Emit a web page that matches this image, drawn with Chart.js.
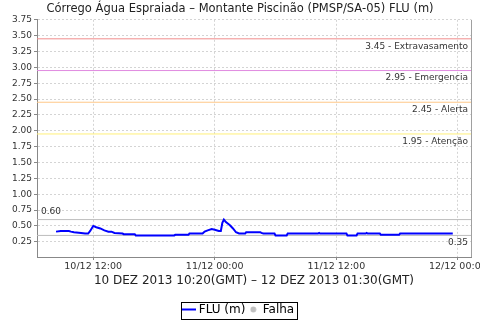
<!DOCTYPE html>
<html>
<head>
<meta charset="utf-8">
<script src="https://cdn.jsdelivr.net/npm/chart.js@4/dist/chart.umd.min.js"></script>
<style>
html,body{margin:0;padding:0;background:#fff;overflow:hidden}
#wrap{position:relative;width:480px;height:320px;overflow:hidden}
#c{position:absolute;left:0;top:0}
</style>
</head>
<body>
<div id="wrap"><canvas id="c" width="500" height="330"></canvas></div>
<script>
const chartTitle = 'Córrego Água Espraiada – Montante Piscinão (PMSP/SA-05) FLU (m)';
const periodLabel = '10 DEZ 2013 10:20(GMT) – 12 DEZ 2013 01:30(GMT)';

// hours counted from 10/12 00:00 (local time shown on the axis)
const hours = [8.33, 8.8, 9.6, 9.8, 10.1, 10.8, 11.2, 11.5, 11.7, 12.0, 12.3, 12.7, 13.1, 13.5, 13.8, 14.1,
  14.9, 15.0, 16.1, 16.2, 20.0, 20.1, 21.4, 21.5, 22.8, 23.0, 23.3, 23.7, 24.0, 24.4, 24.6, 24.75, 24.9,
  25.1, 25.5, 25.8, 26.1, 26.4, 27.0, 27.1, 28.5, 28.6, 28.8, 29.9, 30.0, 31.1, 31.2, 34.2, 34.3, 34.4,
  37.0, 37.1, 38.0, 38.1, 38.9, 39.0, 39.1, 40.3, 40.4, 42.2, 42.3, 47.5];
const flu = [0.41, 0.42, 0.42, 0.41, 0.40, 0.39, 0.38, 0.38, 0.42, 0.50, 0.48, 0.46, 0.43, 0.41, 0.41, 0.39,
  0.38, 0.37, 0.37, 0.35, 0.35, 0.36, 0.36, 0.38, 0.38, 0.41, 0.43, 0.45, 0.44, 0.42, 0.42, 0.55, 0.60,
  0.56, 0.51, 0.46, 0.40, 0.38, 0.38, 0.40, 0.40, 0.39, 0.38, 0.38, 0.35, 0.35, 0.38, 0.38, 0.39, 0.38,
  0.38, 0.35, 0.35, 0.38, 0.38, 0.39, 0.38, 0.38, 0.36, 0.36, 0.38, 0.38];

const xTicks = [12, 24, 36, 48];
const xTickLabels = ['10/12 12:00', '11/12 00:00', '11/12 12:00', '12/12 00:00'];

const alertLevels = [3.45, 2.95, 2.45, 1.95];
const alertNames = ['Extravasamento', 'Emergencia', 'Alerta', 'Atenção'];
const alertColors = ['#f08c8c', '#e08ce0', '#ffc888', '#fff07a'];

const maxVal = Math.max(...flu);
const minVal = Math.min(...flu);

const FONT = 'DejaVu Sans';
const xMin = 6.45, xMax = 49.3;

// legend symbols
function symbol(w, h, draw) {
  const c = document.createElement('canvas');
  c.width = w; c.height = h;
  draw(c.getContext('2d'));
  return c;
}
const lineSym = symbol(14, 4, g => { g.fillStyle = '#0000ff'; g.fillRect(0, 1, 14, 2); });
const dotSym = symbol(7, 7, g => {
  g.fillStyle = '#c0c0c0';
  g.beginPath(); g.arc(3.5, 3.5, 2.9, 0, Math.PI * 2); g.fill();
});

const levelLines = alertLevels.concat([maxVal, minVal]).map((v, i) => ({
  data: [{x: xMin, y: v}, {x: xMax, y: v}],
  borderColor: alertColors[i] || '#bdbdbd',
  borderWidth: 1,
  pointRadius: 0
}));

const levelLabels = {
  id: 'levelLabels',
  afterDatasetsDraw(chart) {
    const {ctx, chartArea: a, scales: {y}} = chart;
    ctx.save();
    ctx.font = '9px "' + FONT + '"';
    ctx.fillStyle = '#333';
    ctx.textAlign = 'right';
    ctx.textBaseline = 'top';
    alertLevels.forEach((v, i) => {
      ctx.fillText(v.toFixed(2) + ' - ' + alertNames[i], a.right - 3, y.getPixelForValue(v) + 3);
    });
    ctx.fillText(minVal.toFixed(2), a.right - 3, y.getPixelForValue(minVal) + 3);
    ctx.textAlign = 'left';
    ctx.textBaseline = 'bottom';
    ctx.fillText(maxVal.toFixed(2), a.left + 4, y.getPixelForValue(maxVal) - 3);
    // right plot border
    ctx.strokeStyle = '#a0a0a0';
    ctx.lineWidth = 1;
    ctx.beginPath();
    ctx.moveTo(Math.round(a.right) + 0.5, a.top);
    ctx.lineTo(Math.round(a.right) + 0.5, a.bottom);
    ctx.stroke();
    ctx.restore();
  }
};

const legendBox = {
  id: 'legendBox',
  afterDraw(chart) {
    const hb = chart.legend.legendHitBoxes;
    if (!hb || !hb.length) return;
    const l = Math.min(...hb.map(b => b.left)) - 5;
    const r = Math.max(...hb.map(b => b.left + b.width)) + 3;
    const t = Math.min(...hb.map(b => b.top)) - 1.5;
    const btm = Math.max(...hb.map(b => b.top + b.height)) + 3.5;
    const ctx = chart.ctx;
    ctx.save();
    ctx.strokeStyle = '#000';
    ctx.lineWidth = 1;
    ctx.strokeRect(Math.round(l) + 0.5, Math.round(t) + 0.5, Math.round(r - l), Math.round(btm - t));
    ctx.restore();
  }
};

new Chart(document.getElementById('c'), {
  type: 'line',
  data: {
    datasets: [
      {
        label: 'FLU (m)',
        data: hours.map((h, i) => ({x: h, y: flu[i]})),
        borderColor: '#0000ff',
        backgroundColor: '#0000ff',
        borderWidth: 2,
        pointRadius: 0,
        pointStyle: lineSym,
        tension: 0
      },
      {
        label: 'Falha',
        data: [],
        borderColor: '#c0c0c0',
        backgroundColor: '#c0c0c0',
        pointStyle: dotSym
      },
      ...levelLines
    ]
  },
  options: {
    responsive: false,
    animation: false,
    devicePixelRatio: 1,
    layout: {padding: {left: 9, right: 29, top: 0, bottom: 4.5}},
    plugins: {
      title: {
        display: true,
        text: chartTitle,
        color: '#222',
        font: {family: FONT, size: 11.5, weight: 'normal'},
        padding: {top: 2, bottom: 4}
      },
      legend: {
        position: 'bottom',
        labels: {
          filter: item => item.datasetIndex < 2,
          usePointStyle: true,
          boxWidth: 7,
          boxHeight: 7,
          padding: 4.35,
          color: '#000',
          font: {family: FONT, size: 12}
        }
      },
      tooltip: {enabled: false}
    },
    scales: {
      x: {
        type: 'linear',
        min: xMin,
        max: xMax,
        afterBuildTicks: s => { s.ticks = xTicks.map(v => ({value: v})); },
        ticks: {
          autoSkip: false,
          maxRotation: 0,
          padding: 1,
          color: '#333',
          font: {family: FONT, size: 9.5},
          callback: (v, i) => xTickLabels[i]
        },
        grid: {color: '#d4d4d4', tickColor: '#888', tickLength: 3},
        border: {color: '#888', dash: [2, 2]},
        title: {
          display: true,
          text: periodLabel,
          color: '#222',
          font: {family: FONT, size: 12},
          padding: {top: 0, bottom: 11.35}
        }
      },
      y: {
        min: 0.01,
        max: 3.75,
        afterFit: s => { s.width = 28; },
        ticks: {
          stepSize: 0.25,
          includeBounds: false,
          padding: 2,
          color: '#333',
          font: {family: FONT, size: 9},
          callback: v => v.toFixed(2)
        },
        grid: {color: '#d4d4d4', tickColor: '#888', tickLength: 3},
        border: {color: '#888', dash: [2, 2]}
      }
    }
  },
  plugins: [levelLabels, legendBox]
});
</script>
</body>
</html>
